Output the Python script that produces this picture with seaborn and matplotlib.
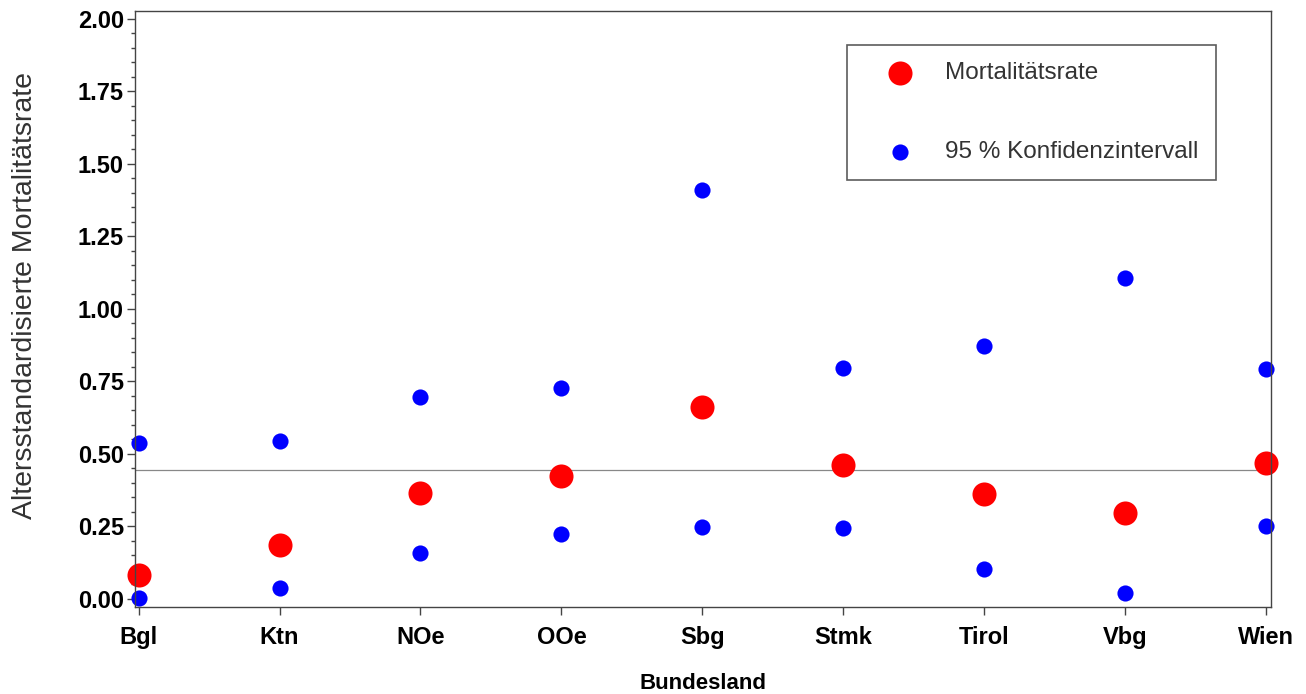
import seaborn as sns
import pandas as pd
import matplotlib.pyplot as plt
from matplotlib.ticker import MultipleLocator, FormatStrFormatter

regions = ["Bgl", "Ktn", "NOe", "OOe", "Sbg", "Stmk", "Tirol", "Vbg", "Wien"]
rate = [0.082, 0.185, 0.364, 0.423, 0.661, 0.461, 0.361, 0.295, 0.468]
ci_low = [0.002, 0.037, 0.157, 0.222, 0.247, 0.244, 0.102, 0.020, 0.251]
ci_high = [0.537, 0.544, 0.696, 0.727, 1.409, 0.796, 0.871, 1.106, 0.792]
overall = 0.444

sns.set_style("ticks")
plt.rcParams["font.family"] = ["Liberation Sans", "DejaVu Sans"]

df = pd.DataFrame({"region": regions, "rate": rate, "low": ci_low, "high": ci_high})
df["pos"] = range(len(df))

fig = plt.figure(figsize=(13.06, 6.94), dpi=100)
ax = fig.add_axes([0.1034, 0.1254, 0.8698, 0.8587])

ax.axhline(overall, color="#888888", lw=0.9, zorder=0.5)

sns.scatterplot(data=df, x="pos", y="low", ax=ax, color="#0000ff", s=135,
                linewidth=0, clip_on=False, label="95 % Konfidenzintervall")
sns.scatterplot(data=df, x="pos", y="high", ax=ax, color="#0000ff", s=135,
                linewidth=0, clip_on=False)
sns.scatterplot(data=df, x="pos", y="rate", ax=ax, color="#ff0000", s=300,
                linewidth=0, clip_on=False, label="Mortalitätsrate")

ax.set_xlim(-0.025, 8.035)
ax.set_ylim(-0.028, 2.027)
ax.set_xticks(df["pos"])
ax.set_xticklabels(regions)
ax.yaxis.set_major_locator(MultipleLocator(0.25))
ax.yaxis.set_minor_locator(MultipleLocator(0.05))
ax.yaxis.set_major_formatter(FormatStrFormatter("%.2f"))

for s in ax.spines.values():
    s.set_color("#444444")
    s.set_linewidth(1.0)

ax.tick_params(axis="both", which="major", direction="out", length=6, width=1,
               color="#444444", labelsize=17, labelcolor="black")
ax.tick_params(axis="y", which="minor", direction="out", length=3, width=1,
               color="#444444")
ax.tick_params(axis="x", pad=8)
ax.tick_params(axis="y", pad=2)
for lab in ax.get_xticklabels() + ax.get_yticklabels():
    lab.set_fontweight("bold")

ax.set_xlabel("Bundesland", fontsize=16, fontweight="bold", color="black",
              labelpad=17)
ax.set_ylabel("Altersstandardisierte Mortalitätsrate", fontsize=20.5,
              color="#333333")
ax.yaxis.set_label_coords(-0.085, 0.523)

handles, labels = ax.get_legend_handles_labels()
order = [1, 0]
leg = ax.legend([handles[i] for i in order], [labels[i] for i in order],
                loc="upper left", bbox_to_anchor=(847 / 1306, 1 - 45 / 694),
                bbox_transform=fig.transFigure, frameon=True, fancybox=False,
                edgecolor="#333333", fontsize=17.5, labelspacing=2.35,
                borderpad=0.7, handlelength=3.0, handletextpad=0.35,
                borderaxespad=0, markerscale=1.0)
leg.get_frame().set_linewidth(1.2)
for t in leg.get_texts():
    t.set_color("#333333")

plt.savefig("out.png", dpi=100)
